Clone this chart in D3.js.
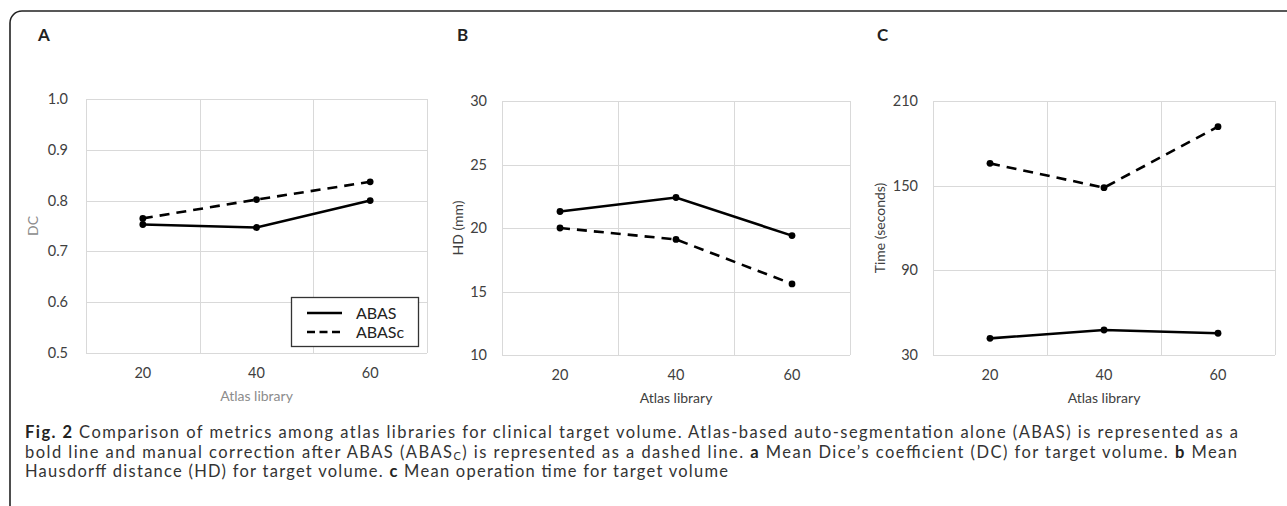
<!DOCTYPE html>
<html>
<head>
<meta charset="utf-8">
<script src="https://cdn.jsdelivr.net/npm/d3@7"></script>
<style>
  body { margin: 0; background: #fff; }
  svg { display: block; font-family: Lato, "Open Sans", sans-serif; }
  .grid line { stroke: #d9d9d9; stroke-width: 1; }
  .tick-lbl { font-size: 14.5px; fill: #404040; }
  .ax-title { font-size: 14px; fill: #404040; }
  .panel-letter { font-size: 17px; font-weight: bold; fill: #222; }
  .caption { font-family: Lato, sans-serif; font-size: 16.5px; fill: #333; }
</style>
</head>
<body>
<svg id="fig" width="1287" height="506"></svg>
<script>
// categories (atlas library size)
const categories = ['20', '40', '60'];
const seriesNames = ['ABAS', 'ABASc'];

// A: Dice coefficient
const dcAbas  = [0.753, 0.747, 0.800];
const dcAbasC = [0.765, 0.802, 0.837];
const dcTicks = [0.5, 0.6, 0.7, 0.8, 0.9, 1.0];

// B: Hausdorff distance (mm)
const hdAbas  = [21.3, 22.4, 19.4];
const hdAbasC = [20.0, 19.1, 15.6];
const hdTicks = [10, 15, 20, 25, 30];

// C: operation time (seconds)
const timeAbas  = [41.8, 47.7, 45.4];
const timeAbasC = [165.8, 148.6, 191.8];
const timeTicks = [30, 90, 150, 210];

const svg = d3.select('#fig');

// outer rounded frame (cut off at right and bottom)
svg.append('rect')
    .attr('x', 10).attr('y', 11).attr('width', 1300).attr('height', 510)
    .attr('rx', 12).attr('ry', 12)
    .attr('fill', 'none').attr('stroke', '#222').attr('stroke-width', 1.6);

function drawPanel(p) {
    const g = svg.append('g');
    const x = d3.scaleBand().domain(categories).range([p.x0, p.x1]);
    const y = d3.scaleLinear().domain([p.ticks[0], p.ticks[p.ticks.length - 1]]).range([p.y1, p.y0]);

    // gridlines + plot area border
    const grid = g.append('g').attr('class', 'grid');
    grid.selectAll('line.h').data(p.ticks).enter().append('line')
        .attr('x1', p.x0).attr('x2', p.x1)
        .attr('y1', d => Math.round(y(d)) + 0.5).attr('y2', d => Math.round(y(d)) + 0.5);
    const edges = categories.map(c => x(c)).concat([p.x1]);
    grid.selectAll('line.v').data(edges).enter().append('line')
        .attr('x1', d => Math.round(d) + 0.5).attr('x2', d => Math.round(d) + 0.5)
        .attr('y1', p.y0).attr('y2', p.y1);

    // y tick labels
    g.selectAll('text.yt').data(p.ticks).enter().append('text')
        .attr('class', 'tick-lbl')
        .attr('x', p.x0 - p.tickGap).attr('y', d => y(d))
        .attr('dy', '0.35em').attr('text-anchor', 'end')
        .text(d => p.fmt(d));

    // x tick labels
    g.selectAll('text.xt').data(categories).enter().append('text')
        .attr('class', 'tick-lbl')
        .attr('x', d => x(d) + x.bandwidth() / 2).attr('y', p.y1 + 20)
        .attr('dy', '0.35em').attr('text-anchor', 'middle')
        .text(d => d);

    // axis titles
    g.append('text').attr('class', 'ax-title')
        .attr('x', (p.x0 + p.x1) / 2).attr('y', p.y1 + 43).attr('dy', '0.35em')
        .attr('text-anchor', 'middle').style('fill', p.titleColor)
        .text('Atlas library');
    g.append('text').attr('class', 'ax-title')
        .attr('transform', 'translate(' + p.ytx + ',' + ((p.y0 + p.y1) / 2) + ') rotate(-90)')
        .attr('dy', '0.35em').attr('text-anchor', 'middle').style('fill', p.titleColor)
        .text(p.ylabel);

    // panel letter
    g.append('text').attr('class', 'panel-letter')
        .attr('x', p.letterX).attr('y', 35).attr('dy', '0.35em')
        .text(p.letter);

    // series
    const line = d3.line()
        .x((d, i) => x(categories[i]) + x.bandwidth() / 2)
        .y(d => y(d));
    [[p.abasC, '10,7'], [p.abas, null]].forEach(function (s) {
        g.append('path').datum(s[0])
            .attr('d', line).attr('fill', 'none')
            .attr('stroke', '#000').attr('stroke-width', 2.6)
            .attr('stroke-dasharray', s[1]);
        g.selectAll(null).data(s[0]).enter().append('circle')
            .attr('cx', (d, i) => x(categories[i]) + x.bandwidth() / 2)
            .attr('cy', d => y(d)).attr('r', 3.4).attr('fill', '#000');
    });
    return { g: g, x: x, y: y };
}

drawPanel({ letter: 'A', letterX: 38, x0: 86, x1: 427, y0: 99, y1: 353, tickGap: 18,
    ticks: dcTicks, fmt: d3.format('.1f'), ylabel: 'DC', ytx: 33, titleColor: '#8c8c8c',
    abas: dcAbas, abasC: dcAbasC });
drawPanel({ letter: 'B', letterX: 457, x0: 502, x1: 850, y0: 101, y1: 355, tickGap: 15,
    ticks: hdTicks, fmt: d3.format('d'), ylabel: 'HD (mm)', ytx: 458, titleColor: '#404040',
    abas: hdAbas, abasC: hdAbasC });
drawPanel({ letter: 'C', letterX: 877, x0: 933, x1: 1275, y0: 101, y1: 355, tickGap: 15,
    ticks: timeTicks, fmt: d3.format('d'), ylabel: 'Time (seconds)', ytx: 880, titleColor: '#404040',
    abas: timeAbas, abasC: timeAbasC });

// legend (panel A)
const lg = svg.append('g');
lg.append('rect').attr('x', 291.5).attr('y', 297.5).attr('width', 127).attr('height', 49)
    .attr('fill', '#fff').attr('stroke', '#333').attr('stroke-width', 1.3);
seriesNames.forEach(function (name, i) {
    const yy = 313 + i * 19;
    lg.append('line').attr('x1', 307).attr('x2', 342).attr('y1', yy).attr('y2', yy)
        .attr('stroke', '#000').attr('stroke-width', 2.6)
        .attr('stroke-dasharray', i ? '8,4.5' : null);
    lg.append('text').attr('class', 'tick-lbl').attr('x', 356).attr('y', yy).attr('dy', '0.35em')
        .style('font-size', '16px').style('fill', '#222')
        .text(name);
});

// caption
const cap = svg.append('g');
const capLines = [
    { y: 438, w: 1213, parts: [['Fig. 2', 'b'], [' Comparison of metrics among atlas libraries for clinical target volume. Atlas-based auto-segmentation alone (ABAS) is represented as a']] },
    { y: 457.5, w: 1212, parts: [['bold line and manual correction after ABAS (ABAS'], ['C', 'sub'], [') is represented as a dashed line. ', 'up'], ['a', 'b'], [' Mean Dice\u2019s coefficient (DC) for target volume. '], ['b', 'b'], [' Mean']] },
    { y: 477, w: 703, parts: [['Hausdorff distance (HD) for target volume. '], ['c', 'b'], [' Mean operation time for target volume']] }
];
capLines.forEach(function (ln) {
    const t = cap.append('text').attr('class', 'caption').attr('x', 25).attr('y', ln.y)
        .attr('textLength', ln.w).attr('lengthAdjust', 'spacing');
    ln.parts.forEach(function (pt) {
        const ts = t.append('tspan').text(pt[0]);
        if (pt[1] === 'b') ts.style('font-weight', 'bold').style('fill', '#222');
        if (pt[1] === 'sub') ts.attr('dy', 2).style('font-size', '11px');
        if (pt[1] === 'up') ts.attr('dy', -2);
    });
});
</script>
</body>
</html>
